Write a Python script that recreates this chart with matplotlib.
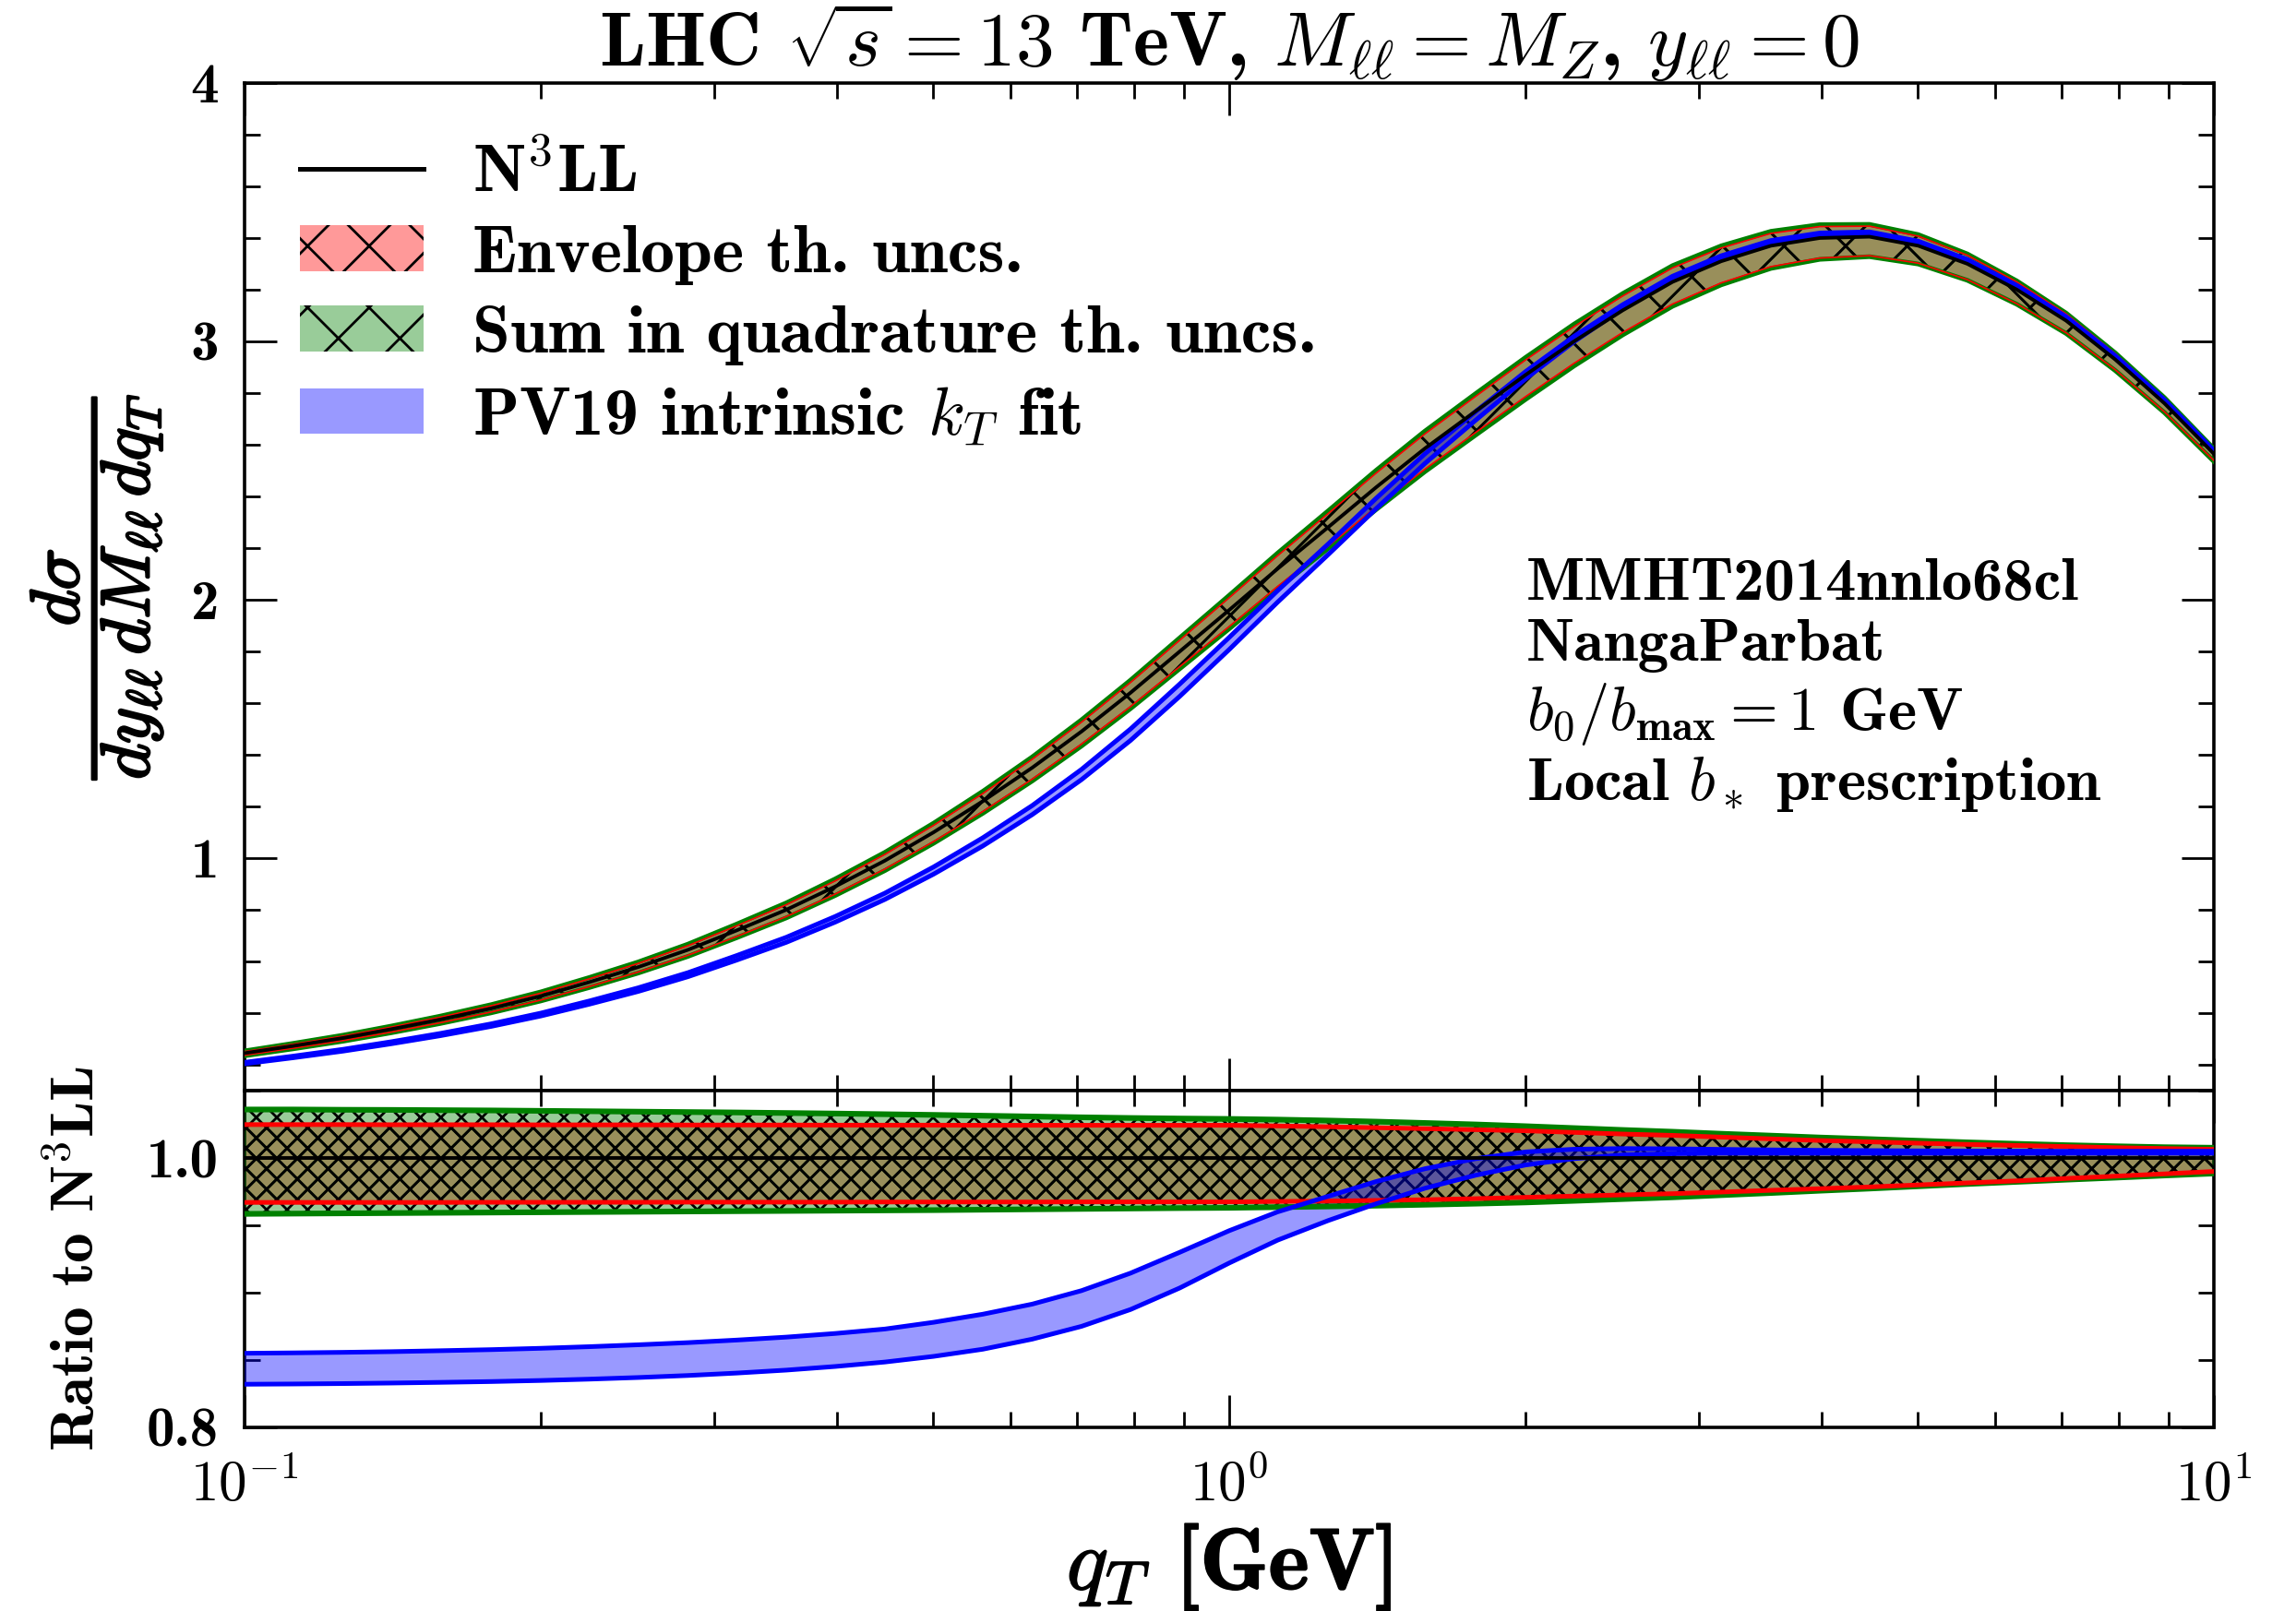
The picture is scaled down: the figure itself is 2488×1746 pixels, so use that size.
import matplotlib
matplotlib.use('Agg')
import matplotlib.pyplot as plt
import matplotlib.patches as mpatches
import matplotlib.patheffects as pe
from matplotlib.lines import Line2D
from matplotlib.ticker import MultipleLocator, FuncFormatter
import numpy as np

plt.rcParams['font.family'] = 'cmb10'
plt.rcParams['mathtext.fontset'] = 'cm'
plt.rcParams['axes.unicode_minus'] = False
plt.rcParams['hatch.linewidth'] = 1.0

# qT grid [GeV]
QT = [0.1, 0.112, 0.126, 0.141, 0.158, 0.178, 0.2, 0.224, 0.251, 0.282,
      0.316, 0.355, 0.398, 0.447, 0.501, 0.562, 0.631, 0.708, 0.794, 0.891,
      1.0, 1.12, 1.26, 1.41, 1.58, 1.78, 2.0, 2.24, 2.51, 2.82,
      3.16, 3.55, 3.98, 4.47, 5.01, 5.62, 6.31, 7.08, 7.94, 8.91, 10.0]

# central N3LL cross section
N3LL = [0.245, 0.273, 0.304, 0.338, 0.375, 0.418, 0.466, 0.52, 0.578, 0.645,
        0.72, 0.80, 0.89, 0.99, 1.10, 1.22, 1.35, 1.49, 1.64, 1.80,
        1.96, 2.12, 2.28, 2.435, 2.585, 2.73, 2.87, 3.00, 3.12, 3.23,
        3.31, 3.37, 3.40, 3.405, 3.37, 3.30, 3.20, 3.08, 2.93, 2.76, 2.565]

# ratios to N3LL: envelope (red), sum in quadrature (green), PV19 (blue)
RED_HI = [1.0248, 1.0248, 1.0248, 1.0247, 1.0247, 1.0247, 1.0246, 1.0246,
          1.0246, 1.0245, 1.0245, 1.0245, 1.0244, 1.0244, 1.0244, 1.0243,
          1.0243, 1.0243, 1.0243, 1.0243, 1.0243, 1.0238, 1.0232, 1.0225,
          1.0218, 1.021, 1.0202, 1.019, 1.0178, 1.0168, 1.0155, 1.0142,
          1.013, 1.012, 1.011, 1.0101, 1.0093, 1.0085, 1.0077, 1.007, 1.0064]
RED_LO = [0.9670, 0.9670, 0.9670, 0.9670, 0.9670, 0.9671, 0.9671, 0.9671,
          0.9671, 0.9672, 0.9672, 0.9672, 0.9672, 0.9673, 0.9673, 0.9673,
          0.9673, 0.9674, 0.9674, 0.9674, 0.9674, 0.9677, 0.968, 0.9685,
          0.969, 0.9698, 0.9708, 0.9717, 0.9726, 0.9735, 0.9747, 0.976,
          0.9772, 0.9785, 0.980, 0.9815, 0.983, 0.9848, 0.9865, 0.9882, 0.990]
GREEN_HI = [1.036, 1.036, 1.0358, 1.0357, 1.0355, 1.0353, 1.035, 1.0347,
            1.0344, 1.0341, 1.0338, 1.0334, 1.033, 1.0325, 1.032, 1.0314,
            1.0308, 1.0302, 1.0297, 1.0293, 1.029, 1.0285, 1.0278, 1.027,
            1.026, 1.0249, 1.0236, 1.0222, 1.0208, 1.0195, 1.018, 1.0166,
            1.0152, 1.014, 1.0128, 1.0116, 1.0105, 1.0095, 1.0087, 1.008,
            1.0076]
GREEN_LO = [0.9585, 0.9587, 0.9589, 0.9591, 0.9593, 0.9595, 0.9597, 0.9599,
            0.9601, 0.9603, 0.9605, 0.9607, 0.9609, 0.9611, 0.9613, 0.9616,
            0.9619, 0.9622, 0.9625, 0.9628, 0.963, 0.9635, 0.964, 0.9646,
            0.9653, 0.9661, 0.967, 0.9682, 0.9695, 0.9708, 0.9724, 0.974,
            0.9757, 0.9773, 0.979, 0.9807, 0.9823, 0.9839, 0.9854, 0.987,
            0.9885]
BLUE_HI = [0.855, 0.8553, 0.8557, 0.8562, 0.8569, 0.8577, 0.8587, 0.8599,
           0.8613, 0.8629, 0.8648, 0.867, 0.8697, 0.873, 0.878, 0.884,
           0.8915, 0.9015, 0.9145, 0.930, 0.946, 0.960, 0.9715, 0.9825,
           0.992, 0.9995, 1.0045, 1.0065, 1.007, 1.0068, 1.0064, 1.006,
           1.0057, 1.0055, 1.0053, 1.0052, 1.0051, 1.005, 1.005, 1.005, 1.005]
BLUE_LO = [0.832, 0.8322, 0.8325, 0.8329, 0.8334, 0.834, 0.8348, 0.8358,
           0.837, 0.8385, 0.8403, 0.8425, 0.8452, 0.8485, 0.8527, 0.858,
           0.8655, 0.875, 0.8875, 0.9035, 0.922, 0.939, 0.9535, 0.966,
           0.9775, 0.9872, 0.9948, 0.9995, 1.0022, 1.0032, 1.0035, 1.0035,
           1.0035, 1.0035, 1.0035, 1.0035, 1.0035, 1.0035, 1.0035, 1.0035,
           1.0035]

LABELS = [r'N$^{\mathbf{3}}$LL', 'Envelope th. uncs.',
          'Sum in quadrature th. uncs.', r'PV19 intrinsic $k_T$ fit']

qt = np.array(QT)
central = np.array(N3LL)

fig = plt.figure(figsize=(12.44, 8.73), dpi=200)
ax1 = fig.add_axes([0.1065, 0.3230, 0.8577, 0.6255])
ax2 = fig.add_axes([0.1065, 0.1140, 0.8577, 0.2090], sharex=ax1)


def draw(ax, base, hatch, lw_red, lw_green, lw_blue):
    ax.fill_between(qt, base * np.array(RED_LO), base * np.array(RED_HI),
                    facecolor=(1, 0, 0, 0.4), hatch=hatch, linewidth=0, zorder=2)
    ax.fill_between(qt, base * np.array(GREEN_LO), base * np.array(GREEN_HI),
                    facecolor=(0, 0.5, 0, 0.4), hatch=hatch, linewidth=0, zorder=3)
    ax.fill_between(qt, base * np.array(BLUE_LO), base * np.array(BLUE_HI),
                    facecolor=(0, 0, 1, 0.4), linewidth=0, zorder=4)
    for arr in (GREEN_LO, GREEN_HI):
        ax.plot(qt, base * np.array(arr), color='green', lw=lw_green, zorder=5)
    for arr in (RED_LO, RED_HI):
        ax.plot(qt, base * np.array(arr), color='red', lw=lw_red, zorder=6)
    for arr in (BLUE_LO, BLUE_HI):
        ax.plot(qt, base * np.array(arr), color='blue', lw=lw_blue, zorder=7)
    ax.plot(qt, base, color='black', lw=1.4, zorder=8)


draw(ax1, central, 'x', 0.6, 1.8, 1.8)
draw(ax2, central / central, 'xxx', 1.8, 2.2, 1.8)

ax1.set_xscale('log')
ax1.set_xlim(0.1, 10)
ax1.set_ylim(0.1, 4)
ax2.set_ylim(0.8, 1.05)

ax1.yaxis.set_major_locator(MultipleLocator(1))
ax1.yaxis.set_minor_locator(MultipleLocator(0.2))
ax1.yaxis.set_major_formatter(FuncFormatter(lambda v, p: f'{v:.0f}'))
ax2.yaxis.set_major_locator(MultipleLocator(0.2))
ax2.yaxis.set_minor_locator(MultipleLocator(0.05))
ax2.yaxis.set_major_formatter(FuncFormatter(lambda v, p: f'{v:.1f}'))
ax2.xaxis.set_major_formatter(
    FuncFormatter(lambda v, p: r'$\mathbf{10^{%d}}$' % round(np.log10(v))))

for ax in (ax1, ax2):
    ax.tick_params(which='both', direction='in', top=True, right=True,
                   width=1.0, labelsize=22)
    ax.tick_params(which='major', length=12.5, pad=10)
    ax.tick_params(which='minor', length=6)
    for s in ax.spines.values():
        s.set_linewidth(1.3)
ax1.tick_params(labelbottom=False)
ax2.tick_params(axis='x', labelsize=22, pad=12)

ax1.set_title(r'LHC $\sqrt{s} = \mathbf{13}$ TeV, $M_{\ell\ell} = M_Z$, '
              r'$y_{\ell\ell} = \mathbf{0}$', fontsize=30, pad=6)

ylab = ax1.set_ylabel(
    r'$\dfrac{d\sigma}{dy_{\ell\ell}\,dM_{\ell\ell}\,dq_T}$', fontsize=27)
ylab.set_path_effects([pe.withStroke(linewidth=0.9, foreground='black')])
ax1.yaxis.set_label_coords(-0.04, 0.5)
ax2.set_ylabel(r'Ratio to N$^{\mathbf{3}}$LL', fontsize=23.5)
ax2.yaxis.set_label_coords(-0.0705, 0.5)
xlab = ax2.set_xlabel(r'$q_T$ [GeV]', fontsize=34)
xlab.set_path_effects([pe.withStroke(linewidth=0.6, foreground='black')])
ax2.xaxis.set_label_coords(0.5, -0.28)

handles = [Line2D([], [], color='black', lw=1.8),
           mpatches.Patch(facecolor=(1, 0, 0, 0.4), hatch='x', lw=0),
           mpatches.Patch(facecolor=(0, 0.5, 0, 0.4), hatch='x', lw=0),
           mpatches.Patch(facecolor=(0, 0, 1, 0.4), lw=0)]
ax1.legend(handles, LABELS, loc='upper left', bbox_to_anchor=(0.028, 0.94),
           frameon=False, fontsize=26.5, handlelength=1.82, handleheight=0.66,
           handletextpad=0.72, labelspacing=0.3, borderpad=0,
           borderaxespad=0)

ax1.text(0.651, 0.528, 'MMHT2014nnlo68cl\nNangaParbat\n'
         r'$b_0/b_{\mathbf{max}} = \mathbf{1}$ GeV' '\n'
         r'Local $b_*$ prescription',
         transform=ax1.transAxes, fontsize=24, va='top', ha='left',
         linespacing=1.17)

fig.savefig('out.png', dpi=200)
